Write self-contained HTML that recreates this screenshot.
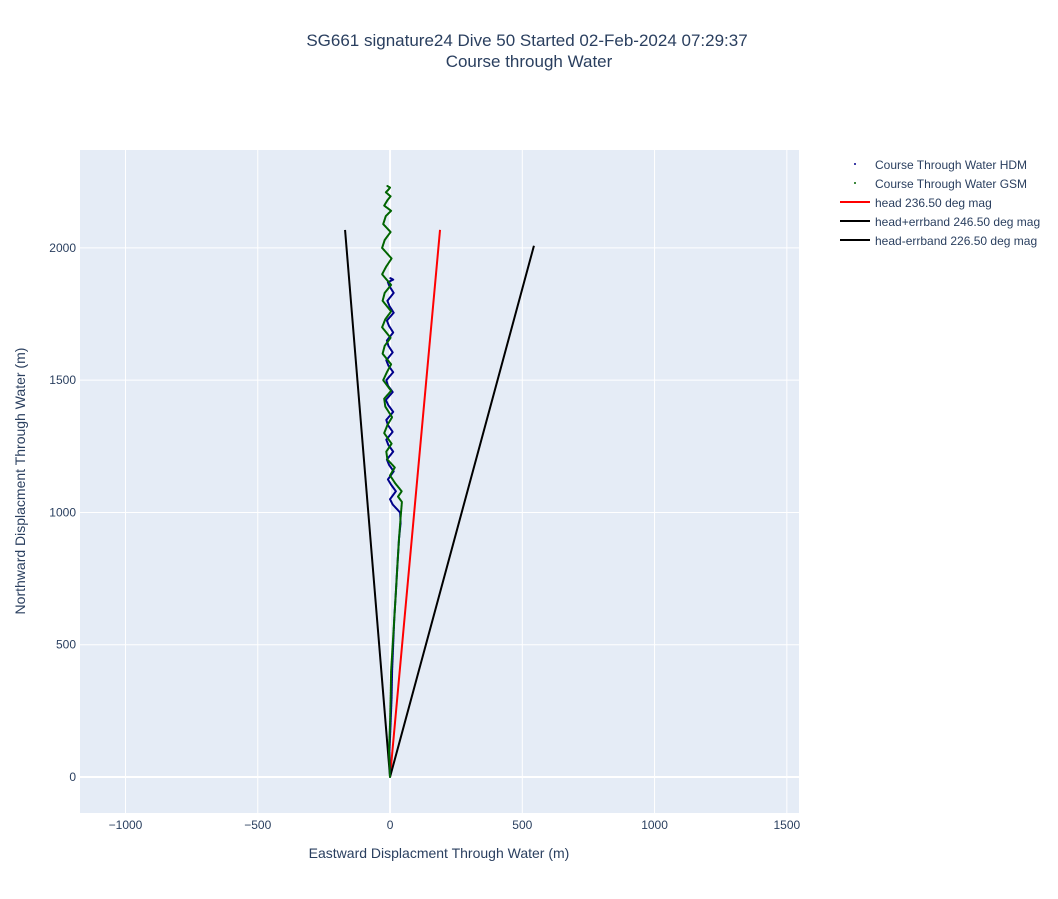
<!DOCTYPE html>
<html><head><meta charset="utf-8"><style>
body{margin:0;background:#fff;font-family:"Liberation Sans",sans-serif}
svg text{font-family:"Liberation Sans",sans-serif}
</style></head><body>
<svg id="chart" width="1058" height="894" xmlns="http://www.w3.org/2000/svg">
<rect width="1058" height="894" fill="#fff"/>
<text x="527" y="46" text-anchor="middle" font-size="17" fill="#2a3f5f">SG661 signature24 Dive 50 Started 02-Feb-2024 07:29:37</text>
<text x="529" y="67" text-anchor="middle" font-size="17" fill="#2a3f5f">Course through Water</text>
<rect x="80" y="150" width="719" height="663" fill="#e5ecf6"/>
<g id="grid"></g>
<g id="series"></g>
<g id="ticks"></g>
<text x="439" y="858" text-anchor="middle" font-size="14" fill="#2a3f5f">Eastward Displacment Through Water (m)</text>
<text transform="translate(25,481) rotate(-90)" text-anchor="middle" font-size="14" fill="#2a3f5f">Northward Displacment Through Water (m)</text>
<g font-size="12" fill="#2a3f5f">
 <g><circle cx="855" cy="164" r="1" fill="#00008b"/><text x="875" y="169">Course Through Water HDM</text></g>
 <g><circle cx="855" cy="183" r="1" fill="#006400"/><text x="875" y="188">Course Through Water GSM</text></g>
 <g><line x1="840" y1="202" x2="870" y2="202" stroke="red" stroke-width="2"/><text x="875" y="207">head 236.50 deg mag</text></g>
 <g><line x1="840" y1="221" x2="870" y2="221" stroke="#000" stroke-width="2"/><text x="875" y="226">head+errband 246.50 deg mag</text></g>
 <g><line x1="840" y1="240" x2="870" y2="240" stroke="#000" stroke-width="2"/><text x="875" y="245">head-errband 226.50 deg mag</text></g>
</g>
</svg>
<script>
const xTicks=[-1000,-500,0,500,1000,1500];
const yTicks=[0,500,1000,1500,2000];
const hdmX=[0,-2,2,6,8,12,16,22,28,34,40,38,10,0,22,4,-8,14,-4,-12,12,-6,-14,10,-8,-14,12,-6,-16,10,-8,-14,12,-6,-14,10,-6,-12,12,-4,-12,14,-2,-10,14,-2,-8,12,0];
const hdmY=[0,100,200,300,400,500,600,700,800,900,960,1000,1030,1050,1080,1105,1125,1155,1180,1200,1230,1255,1275,1305,1330,1350,1380,1405,1425,1455,1480,1500,1530,1555,1575,1605,1630,1650,1680,1705,1725,1755,1780,1800,1830,1855,1870,1880,1886];
const gsmX=[0,-4,0,2,4,10,16,22,28,34,40,45,30,44,20,0,18,-10,-14,6,-22,-10,8,-18,-22,4,-26,-12,4,-28,-20,2,-30,-18,4,-28,-20,4,-30,-14,6,-30,-20,2,-26,-16,4,-22,-10,2,-16,-6,0,-10];
const gsmY=[0,100,200,300,400,500,600,700,800,900,980,1040,1060,1080,1110,1140,1170,1200,1230,1260,1300,1330,1360,1400,1430,1460,1500,1530,1560,1600,1630,1660,1700,1730,1760,1800,1830,1860,1900,1930,1960,2000,2030,2060,2090,2120,2140,2160,2180,2195,2210,2220,2228,2234];
const lineNames=["head","head-plus","head-minus"];
const lineColors=["red","#000","#000"];
const lineEndX=[189,544,-170];
const lineEndY=[2068,2008,2068];
const xmin=-1172,xmax=1546,ymin=-136,ymax=2370;
const L=80,R=799,T=150,B=813;
const sx=v=>L+(v-xmin)/(xmax-xmin)*(R-L);
const sy=v=>B-(v-ymin)/(ymax-ymin)*(B-T);
const NS="http://www.w3.org/2000/svg";
const grid=document.getElementById('grid'),ticks=document.getElementById('ticks'),ser=document.getElementById('series');
function mk(tag,attrs,parent){const e=document.createElementNS(NS,tag);for(const k in attrs)e.setAttribute(k,attrs[k]);parent.appendChild(e);return e;}
xTicks.forEach(t=>{
 const g=mk('line',{x1:sx(t),x2:sx(t),y1:T,y2:B,stroke:'#fff','stroke-width':t===0?2:1},grid);
 
 
 const tx=mk('text',{x:sx(t),y:829,'text-anchor':'middle','font-size':12,fill:'#2a3f5f'},ticks);
 tx.textContent=t<0?'\u2212'+(-t):String(t);
 
 
});
yTicks.forEach(t=>{
 const g=mk('line',{x1:L,x2:R,y1:sy(t),y2:sy(t),stroke:'#fff','stroke-width':t===0?2:1},grid);
 
 
 const tx=mk('text',{x:76,y:sy(t)+4,'text-anchor':'end','font-size':12,fill:'#2a3f5f'},ticks);
 tx.textContent=String(t);
 
 
});
lineNames.forEach((n,i)=>{
 const l=mk('line',{x1:sx(0),y1:sy(0),x2:sx(lineEndX[i]),y2:sy(lineEndY[i]),stroke:lineColors[i],'stroke-width':2},ser);
 
 
});
function traj(xs,ys,color,name){
 const pts=xs.map((x,i)=>sx(x).toFixed(1)+','+sy(ys[i]).toFixed(1)).join(' ');
 const p=mk('polyline',{points:pts,fill:'none',stroke:color,'stroke-width':2,'stroke-dasharray':'2 0.6','stroke-linejoin':'round','stroke-linecap':'round'},ser);
 
 
}
traj(hdmX,hdmY,'#00008b','hdm-trajectory');
traj(gsmX,gsmY,'#006400','gsm-trajectory');
</script>
</body></html>
